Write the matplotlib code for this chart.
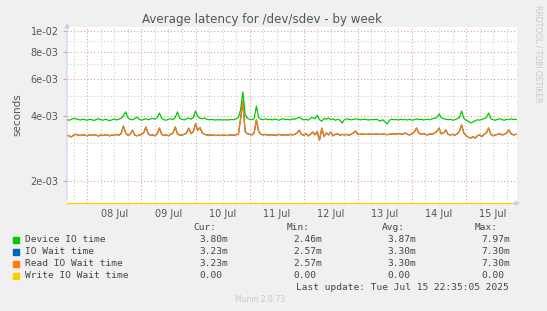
import numpy as np
import pandas as pd
import matplotlib
matplotlib.use("Agg")
import matplotlib.pyplot as plt
import matplotlib.dates as mdates
from matplotlib.ticker import FixedLocator, NullFormatter

start = "2025-07-07 15:00"
device_ms = [
    3.86, 3.84, 3.88, 3.92, 3.90, 3.87, 3.85, 3.89, 3.86, 3.84,
    3.88, 3.86, 3.83, 3.87, 3.90, 3.86, 3.84, 3.88, 3.85, 3.82,
    3.86, 3.89, 3.85, 3.88, 3.92, 4.02, 4.20, 3.95, 3.88, 3.86,
    3.90, 3.97, 3.88, 3.84, 3.87, 3.90, 3.86, 3.89, 3.92, 3.88,
    3.95, 4.15, 3.92, 3.86, 3.84, 3.88, 3.90, 3.86, 3.95, 4.20,
    3.92, 3.88, 3.85, 3.90, 3.93, 3.88, 3.95, 4.24, 4.00, 3.92,
    3.90, 3.93, 3.88, 3.86, 3.87, 3.86, 3.85, 3.86, 3.86, 3.85,
    3.86, 3.85, 3.86, 3.87, 3.86, 3.90, 3.95, 4.30, 5.20, 4.10,
    3.92, 3.88, 3.86, 3.90, 4.47, 3.95, 3.88, 3.86, 3.90, 3.86,
    3.88, 3.85, 3.89, 3.87, 3.84, 3.88, 3.90, 3.86, 3.88, 3.85,
    3.90, 3.88, 3.92, 3.96, 3.90, 3.85, 3.88, 3.84, 3.92, 3.95,
    3.90, 4.05, 3.86, 3.80, 3.92, 3.88, 3.93, 3.86, 3.90, 3.84,
    3.88, 3.85, 3.72, 3.86, 3.90, 3.88, 3.86, 3.87, 3.90, 3.88,
    3.86, 3.87, 3.88, 3.86, 3.85, 3.87, 3.86, 3.88, 3.85, 3.80,
    3.86, 3.78, 3.69, 3.84, 3.88, 3.86, 3.87, 3.85, 3.88, 3.86,
    3.87, 3.85, 3.88, 3.84, 3.86, 3.90, 3.86, 3.88, 3.85, 3.87,
    3.88, 3.86, 3.90, 3.92, 3.95, 4.11, 3.95, 3.90, 3.88, 3.86,
    3.88, 3.84, 3.86, 3.90, 3.95, 4.24, 3.92, 3.84, 3.80, 3.73,
    3.76, 3.82, 3.86, 3.84, 3.88, 3.90, 3.95, 4.15, 3.90, 3.86,
    3.84, 3.88, 3.90, 3.86, 3.84, 3.88, 3.86, 3.90, 3.87, 3.88,
    3.85]
read_ms = [
    3.27, 3.24, 3.21, 3.28, 3.30, 3.27, 3.26, 3.29, 3.27, 3.25,
    3.28, 3.26, 3.29, 3.27, 3.24, 3.28, 3.26, 3.29, 3.27, 3.25,
    3.28, 3.26, 3.30, 3.27, 3.32, 3.61, 3.35, 3.26, 3.30, 3.45,
    3.28, 3.25, 3.27, 3.30, 3.35, 3.57, 3.32, 3.26, 3.28, 3.25,
    3.32, 3.53, 3.30, 3.26, 3.28, 3.25, 3.30, 3.35, 3.57, 3.32,
    3.27, 3.28, 3.30, 3.35, 3.53, 3.32, 3.40, 3.69, 3.45, 3.55,
    3.35, 3.30, 3.28, 3.27, 3.28, 3.27, 3.26, 3.27, 3.26, 3.27,
    3.27, 3.26, 3.27, 3.28, 3.27, 3.29, 3.30, 3.90, 4.70, 3.40,
    3.32, 3.30, 3.28, 3.35, 3.85, 3.40, 3.30, 3.28, 3.30, 3.27,
    3.29, 3.27, 3.28, 3.26, 3.30, 3.28, 3.27, 3.29, 3.27, 3.30,
    3.28, 3.30, 3.35, 3.45, 3.30, 3.27, 3.32, 3.25, 3.30, 3.38,
    3.28, 3.40, 3.10, 3.53, 3.22, 3.35, 3.28, 3.38, 3.25, 3.30,
    3.32, 3.27, 3.30, 3.28, 3.30, 3.27, 3.30, 3.35, 3.42, 3.30,
    3.30, 3.31, 3.30, 3.30, 3.31, 3.30, 3.30, 3.31, 3.30, 3.30,
    3.31, 3.30, 3.29, 3.30, 3.31, 3.32, 3.30, 3.33, 3.31, 3.30,
    3.35, 3.30, 3.28, 3.32, 3.38, 3.53, 3.35, 3.30, 3.33, 3.30,
    3.28, 3.32, 3.30, 3.35, 3.40, 3.53, 3.32, 3.35, 3.46, 3.30,
    3.28, 3.30, 3.27, 3.32, 3.40, 3.65, 3.35, 3.25, 3.20, 3.17,
    3.22, 3.17, 3.25, 3.28, 3.22, 3.30, 3.35, 3.53, 3.30, 3.25,
    3.28, 3.30, 3.32, 3.28, 3.30, 3.35, 3.46, 3.32, 3.28, 3.30,
    3.30]
iowait_ms = list(read_ms)
write_ms = [0.0] * len(device_ms)

names = ["Device IO time", "IO Wait time", "Read IO Wait time", "Write IO Wait time"]
colors = ["#00CC00", "#0066B3", "#FF8000", "#FFCC00"]
cur = ["3.80m", "3.23m", "3.23m", "0.00"]
mins = ["2.46m", "2.57m", "2.57m", "0.00"]
avgs = ["3.87m", "3.30m", "3.30m", "0.00"]
maxs = ["7.97m", "7.30m", "7.30m", "0.00"]

t = pd.date_range(start, periods=len(device_ms), freq="1h")
device = np.array(device_ms) * 1e-3
iowait = np.array(iowait_ms) * 1e-3
read = np.array(read_ms) * 1e-3
write = np.array(write_ms) * 1e-3

YMIN, YMAX = 1.58e-3, 1.044e-2
BG = "#F0F0F0"

fig = plt.figure(figsize=(5.47, 3.11), dpi=100, facecolor=BG)
ax = fig.add_axes([67 / 547, 1 - 203 / 311, 450 / 547, 176 / 311])
ax.set_facecolor("white")
for s in ax.spines.values():
    s.set_visible(False)

ax.set_yscale("log")
ax.set_ylim(YMIN, YMAX)
ax.set_xlim(pd.Timestamp(start), pd.Timestamp("2025-07-15 22:35"))

red, gray = "#e4a0a0", "#cfcfcf"
dots = (0, (1, 2))
ax.yaxis.set_major_locator(FixedLocator([2e-3, 4e-3, 6e-3, 8e-3, 1e-2]))
ax.yaxis.set_minor_locator(FixedLocator([3e-3, 5e-3, 7e-3, 9e-3]))
ax.yaxis.set_major_formatter(plt.FuncFormatter(lambda v, p: f"{v:.0e}"))
ax.yaxis.set_minor_formatter(NullFormatter())
ax.grid(True, which="major", axis="y", color=red, lw=0.8, ls=dots)
ax.grid(True, which="minor", axis="y", color=gray, lw=0.8, ls=dots)

ax.xaxis.remove_overlapping_locs = False
ax.xaxis.set_major_locator(mdates.HourLocator(byhour=12))
ax.xaxis.set_major_formatter(mdates.DateFormatter("%d %b"))
ax.xaxis.set_minor_locator(mdates.HourLocator(byhour=[6, 12, 18]))
ax.grid(True, which="minor", axis="x", color=gray, lw=0.8, ls=dots)
for d in pd.date_range("2025-07-08", "2025-07-15", freq="D"):
    ax.axvline(d, color=red, lw=0.8, ls=dots, zorder=1)

ax.tick_params(axis="both", which="both", labelsize=7, labelcolor="#555555", colors=red)
ax.tick_params(axis="x", which="major", length=0, pad=4)
ax.tick_params(axis="x", which="minor", length=0)
ax.tick_params(axis="y", which="major", length=3, pad=3)
ax.tick_params(axis="y", which="minor", length=0)
ax.set_ylabel("seconds", fontsize=7.5, color="#555555", labelpad=6)

series = [device, iowait, read, np.where(write > 0, write, YMIN)]
for y, c in zip(series, colors):
    ax.plot(t, y, color=c, lw=0.9, zorder=3, clip_on=(c != "#FFCC00"))

# axis arrows
ax.annotate("", xy=(0, 1.04), xytext=(0, 0), xycoords="axes fraction",
            arrowprops=dict(arrowstyle="-|>", color="#c8cff0", lw=0.8, mutation_scale=7))
ax.annotate("", xy=(1.013, 0), xytext=(0.995, 0), xycoords="axes fraction",
            arrowprops=dict(arrowstyle="-|>", color="#c8cff0", lw=0.8, mutation_scale=7))

fig.text(262 / 547, 1 - 19 / 311, "Average latency for /dev/sdev - by week",
         ha="center", va="center", fontsize=8.6, color="#555555")
fig.text(538 / 547, 1 - 5 / 311, "RRDTOOL / TOBI OETIKER", rotation=270,
         ha="center", va="top", fontsize=5.5, color="#c8c8c8")

mono = dict(family="DejaVu Sans Mono", fontsize=6.8, color="#444444", va="center")
cols = [199, 293, 387, 481]
for x, h in zip([193, 287, 382, 475], ["Cur:", "Min:", "Avg:", "Max:"]):
    fig.text(x / 547, 1 - 228 / 311, h, ha="left", **mono)
for i, name in enumerate(names):
    yy = 1 - (240 + 12 * i) / 311
    fig.patches.append(plt.Rectangle((13 / 547, yy - 3 / 311), 6 / 547, 6 / 311,
                                     transform=fig.transFigure, color=colors[i]))
    fig.text(25 / 547, yy, name, ha="left", **mono)
    for x, v in zip(cols, [cur[i], mins[i], avgs[i], maxs[i]]):
        fig.text(x / 547, yy, v, ha="left", **mono)
fig.text(509 / 547, 1 - 287 / 311, "Last update: Tue Jul 15 22:35:05 2025", ha="right", **mono)
fig.text(260 / 547, 1 - 300 / 311, "Munin 2.0.73", ha="center", va="center",
         fontsize=5.5, color="#c8c8c8")

fig.savefig("out.png", dpi=100, facecolor=BG)
